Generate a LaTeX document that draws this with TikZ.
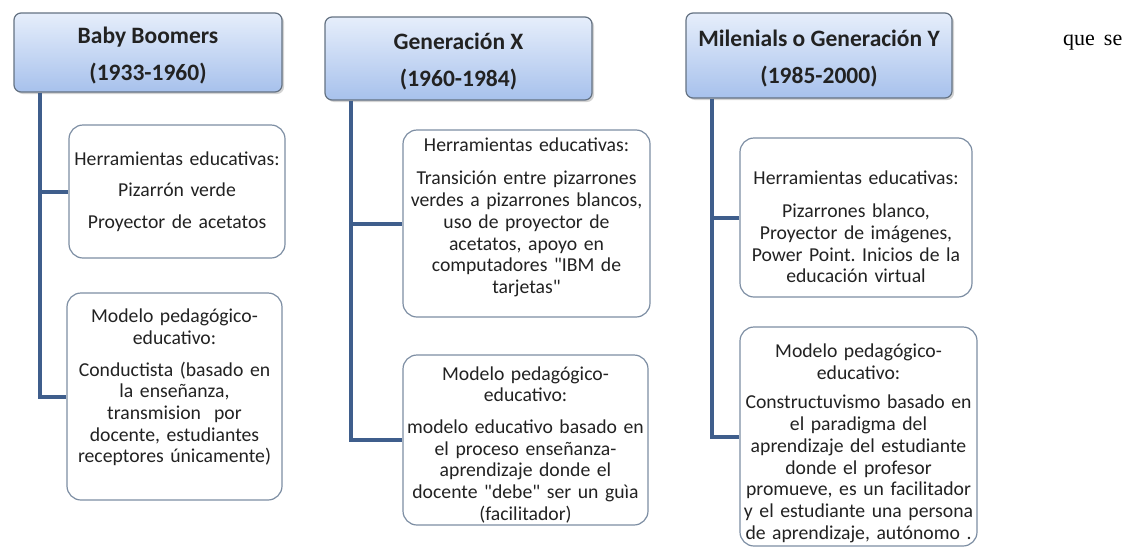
\documentclass[tikz,border=0pt]{standalone}
\usepackage{fontspec}
\setmainfont{Carlito}
\newfontfamily\tailfont{Liberation Serif}
\usetikzlibrary{positioning,shadows}

\definecolor{trunkblue}{HTML}{3F5E8C}
\definecolor{boxgrey}{HTML}{7D8EA3}
\definecolor{headtop}{HTML}{E6EEFB}
\definecolor{headbot}{HTML}{A7C1EC}
\definecolor{ink}{HTML}{222222}

\begin{document}
\frenchspacing
\begin{tikzpicture}[x=1pt,y=-1pt,
    gen/.style={draw=boxgrey!80!black,line width=1.2pt,rounded corners=7pt,
      top color=headtop,bottom color=headbot,
      drop shadow={shadow xshift=2pt,shadow yshift=-2pt,opacity=.35},
      font=\fontsize{23.5}{37}\selectfont\bfseries,text=ink,align=center,inner sep=0pt},
    info/.style={draw=boxgrey,line width=1.2pt,rounded corners=14pt,fill=white,
      font=\fontsize{19.7}{21.7}\selectfont,text=ink,align=center,inner sep=2pt},
    trunk/.style={draw=trunkblue,line width=4pt}]
    \useasboundingbox (0,0) rectangle (1131,549);

    % generation headers
    \node[gen,minimum width=268pt,minimum height=79pt] (gen_1) at (148,52.5)
      {\rule{0pt}{22pt}Baby Boomers\\(1933-1960)};
    \node[gen,minimum width=267pt,minimum height=83pt] (gen_2) at (458.5,58.5)
      {\rule{0pt}{22pt}Generación X\\(1960-1984)};
    \node[gen,minimum width=266pt,minimum height=85pt] (gen_3) at (819,55.5)
      {\rule{0pt}{22pt}Milenials o Generación Y\\(1985-2000)};

    % herramientas
    \node[info,text width=212pt,minimum height=133pt] (tool_1) at (177,191.5)
      {Herramientas educativas:\\[10pt]Pizarrón verde\\[10pt]Proyector de acetatos};
    \node[info,text width=243pt,minimum height=187pt] (tool_2) at (526.5,223.5)
      {Herramientas educativas:\\[12pt]Transición entre pizarrones\\verdes a pizarrones blancos,\\
       uso de proyector de\\acetatos, apoyo en\\computadores \textquotedbl IBM de\\
       tarjetas\textquotedbl\rule[-16pt]{0pt}{16pt}};
    \node[info,text width=228pt,minimum height=159pt] (tool_3) at (856,217.5)
      {\rule{0pt}{32pt}Herramientas educativas:\\[12pt]Pizarrones blanco,\\Proyector de imágenes,\\
       Power Point. Inicios de la\\educación virtual};

    % modelo
    \node[info,text width=211pt,minimum height=207pt] (model_1) at (174.5,396.5)
      {Modelo pedagógico-\\educativo:\\[10pt]Conductista (basado en\\la enseñanza,\\
       transmision\ \ por\\docente, estudiantes\\receptores únicamente)\rule[-21pt]{0pt}{21pt}};
    \node[info,text width=241pt,minimum height=170pt] (model_2) at (525.5,440)
      {\rule{0pt}{23pt}Modelo pedagógico-\\educativo:\\[10pt]modelo educativo basado en\\el proceso enseñanza-\\
       aprendizaje donde el\\docente \textquotedbl debe\textquotedbl\ ser un guìa\\(facilitador)};
    \node[info,text width=233pt,minimum height=219pt] (model_3) at (858.5,436.5)
      {\rule{0pt}{27pt}Modelo pedagógico-\\educativo:\\[8pt]Constructuvismo basado en\\el paradigma del\\
       aprendizaje del estudiante\\donde el profesor\\promueve, es un facilitador\\
       y el estudiante una persona\\de aprendizaje, autónomo .};

    % trunks
    \coordinate (r_1) at (40,0);
    \coordinate (r_2) at (351,0);
    \coordinate (r_3) at (712,0);
    \draw[trunk] (gen_1.south -| r_1) |- (model_1.west);
    \draw[trunk] (tool_1.west -| r_1) -- (tool_1.west);
    \draw[trunk] (gen_2.south -| r_2) |- (model_2.west);
    \draw[trunk] (tool_2.west -| r_2) -- (tool_2.west);
    \draw[trunk] (gen_3.south -| r_3) |- (model_3.west);
    \draw[trunk] (tool_3.west -| r_3) -- (tool_3.west);

    \node[font=\tailfont\fontsize{22}{26}\selectfont,anchor=base west,inner sep=0pt] (tail)
      at (1063,45) {que\hspace{9pt}se};
\end{tikzpicture}
\end{document}
